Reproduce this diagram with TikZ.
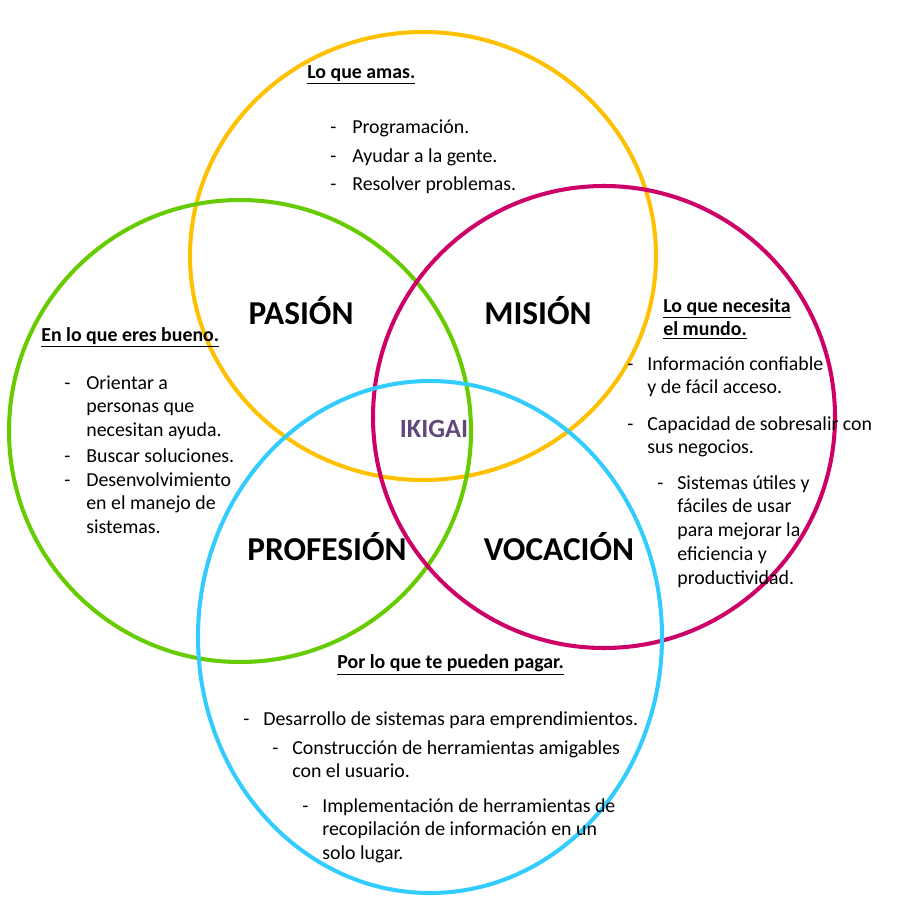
\documentclass[tikz,border=0pt]{standalone}
\usepackage{fontspec}
\setmainfont{Carlito}
\definecolor{ama}{RGB}{255, 192, 0}
\definecolor{bue}{RGB}{102, 204, 0}
\definecolor{mun}{RGB}{204, 0, 102}
\definecolor{pag}{RGB}{51, 204, 255}
\definecolor{iki}{RGB}{96, 73, 122}
\tikzset{
  ring/.style={line width=2.3pt},
  big/.style={font=\fontsize{19}{22}\selectfont\bfseries},
  head/.style={anchor=north west, inner sep=0pt, align=left, font=\fontsize{11.3}{13.6}\selectfont\bfseries},
  txt/.style={anchor=north west, inner sep=0pt, align=left, font=\fontsize{11.3}{13.6}\selectfont},
}
\begin{document}
\begin{tikzpicture}[x=0.02cm, y=-0.02cm]
      \useasboundingbox (0, 0) rectangle (897, 901);
      \draw[ring, color=ama] (423, 256) ellipse (233 and 224);
      \draw[ring, color=bue] (240, 431) circle (231);
      \draw[ring, color=mun] (604, 417) circle (231);
      \draw[ring, color=pag] (430, 637) ellipse (232 and 256);
      % labels
      \node[big](pasion) at (301, 311) {PASIÓN};
      \node[big](mision) at (538, 311) {MISIÓN};
      \node[big](profesion) at (327, 547) {PROFESIÓN};
      \node[big](vocacion) at (559, 547) {VOCACIÓN};
      \node[big, color=iki, font=\fontsize{15}{18}\selectfont\bfseries](ikigai) at (434, 429) {IKIGAI};
      % lo que amas
      \node[head](amas) at (307, 61) {\strut\underline{Lo que amas.}};
      \node[txt](a1) at (330, 116) {\strut-};
      \node[txt](a1t) at (352, 116) {\strut Programación.};
      \node[txt](a2) at (330, 145) {\strut-};
      \node[txt](a2t) at (352, 145) {\strut Ayudar a la gente.};
      \node[txt](a3) at (330, 173) {\strut-};
      \node[txt](a3t) at (352, 173) {\strut Resolver problemas.};
      % en lo que eres bueno
      \node[head](bueno) at (41, 324) {\strut\underline{En lo que eres bueno.}};
      \node[txt](b1) at (64, 372) {\strut-};
      \node[txt](b1t) at (86, 372) {\strut Orientar a\\personas que\\necesitan ayuda.};
      \node[txt](b2) at (64, 445) {\strut-};
      \node[txt](b2t) at (86, 445) {\strut Buscar soluciones.};
      \node[txt](b3) at (64, 469) {\strut-};
      \node[txt](b3t) at (86, 469) {\strut Desenvolvimiento\\en el manejo de\\sistemas.};
      % lo que necesita el mundo
      \node[head](mundo) at (663, 295) {\strut\underline{Lo que necesita}\\\underline{el mundo.}};
      \node[txt](m1) at (627, 353) {\strut-};
      \node[txt](m1t) at (647, 353) {\strut Información confiable\\y de fácil acceso.};
      \node[txt](m2) at (627, 413) {\strut-};
      \node[txt](m2t) at (647, 413) {\strut Capacidad de sobresalir con\\sus negocios.};
      \node[txt](m3) at (657, 472) {\strut-};
      \node[txt](m3t) at (677, 472) {\strut Sistemas útiles y\\fáciles de usar\\para mejorar la\\eficiencia y\\productividad.};
      % por lo que te pueden pagar
      \node[head](pagar) at (337, 651) {\strut\underline{Por lo que te pueden pagar.}};
      \node[txt](p1) at (243, 708) {\strut-};
      \node[txt](p1t) at (263, 708) {\strut Desarrollo de sistemas para emprendimientos.};
      \node[txt](p2) at (272, 737) {\strut-};
      \node[txt](p2t) at (292, 737) {\strut Construcción de herramientas amigables\\con el usuario.};
      \node[txt](p3) at (302, 795) {\strut-};
      \node[txt](p3t) at (322, 795) {\strut Implementación de herramientas de\\recopilación de información en un\\solo lugar.};
    \end{tikzpicture}
\end{document}
